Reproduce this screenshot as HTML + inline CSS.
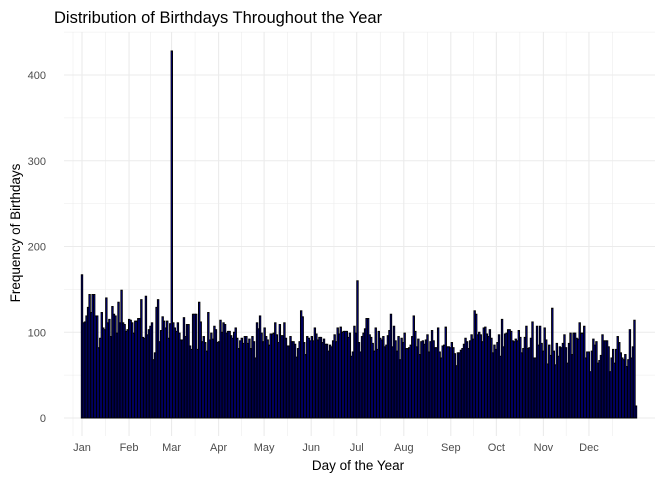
<!DOCTYPE html>
<html><head><meta charset="utf-8"><style>
body{margin:0;background:#fff;font-family:"Liberation Sans",sans-serif}
svg text{font-family:"Liberation Sans",sans-serif}
</style></head><body>
<svg id="chart" width="672" height="480" xmlns="http://www.w3.org/2000/svg">
<g id="grid"></g>
<g id="bars"></g>
<g id="axes"></g>
<text x="54" y="23" font-size="16.5" fill="#000">Distribution of Birthdays Throughout the Year</text>
<text x="358" y="470" font-size="13.5" text-anchor="middle" fill="#000">Day of the Year</text>
<text transform="translate(20,233) rotate(-90)" font-size="13.5" text-anchor="middle" fill="#000">Frequency of Birthdays</text>
</svg>
<script>
const monthLabels=["Jan","Feb","Mar","Apr","May","Jun","Jul","Aug","Sep","Oct","Nov","Dec"];
const monthDays=[1,32,60,91,121,152,182,213,244,274,305,335];
const yTicks=[0,100,200,300,400];
const countsQ1=[167,111,112,119,129,144,123,144,144,119,119,82,93,123,105,103,140,111,115,95,130,121,119,99,135,111,149,111,109,101,103,115,114,111,99,113,113,116,116,138,94,93,142,97,103,107,111,68,76,129,138,89,102,118,113,105,113,93,110,428,111,105,101,111,99,91,91,117,95,109,109,84,80,121,121];
const countsQ2=[121,80,135,112,89,95,88,78,123,91,99,92,107,103,88,89,114,100,111,109,99,101,101,96,93,100,105,93,81,90,93,87,95,95,87,92,81,95,89,70,111,104,119,99,89,105,95,91,85,98,98,99,111,97,88,109,96,96,111,93,84,84,95,89,89,86,71,81,89,125,118,88,74,95,93,90];
const countsQ3=[95,90,105,98,91,94,94,88,92,86,86,78,85,83,90,97,89,105,98,106,100,101,101,101,94,99,72,77,107,99,160,88,77,95,99,104,116,116,97,94,87,78,105,80,101,93,91,95,83,85,96,102,121,83,107,90,78,95,68,93,88,99,81,81,82,85,95,119,101,83,92,74,89,90,86];
const countsQ4=[91,97,77,89,102,90,82,82,105,77,70,84,85,106,83,83,82,88,82,75,61,76,76,79,81,86,93,89,81,90,97,92,125,121,97,100,97,89,105,106,98,95,103,93,76,85,80,88,97,72,115,83,98,99,103,103,101,90,89,92,90,102,94,76,81,94,107,81,82,93,112,70,70,107,85];
const countsQ5=[107,87,78,105,91,63,85,73,128,78,62,87,72,83,82,87,97,82,64,87,99,74,99,99,93,92,111,99,99,107,70,77,77,54,78,92,85,89,64,67,73,97,90,90,90,83,54,70,80,64,80,95,88,76,70,68,74,60,68,103,70,83,114,14];
const counts=countsQ1.concat(countsQ2,countsQ3,countsQ4,countsQ5);
const NS="http://www.w3.org/2000/svg";
const x0=82,x1=636,y0=418,yScale=(418-75)/400;
const xDay=d=>x0+(d-1)*(x1-x0)/365;
const yVal=v=>y0-v*yScale;
const pL=64,pR=655,pT=32,pB=436;
function mk(tag,at,parent){const e=document.createElementNS(NS,tag);for(const k in at)e.setAttribute(k,at[k]);parent.appendChild(e);return e;}
const grid=document.getElementById('grid'),bars=document.getElementById('bars'),axes=document.getElementById('axes');
for(let v=-50;v<=450;v+=50){const y=yVal(v);if(y<pT||y>pB)continue;
 const l=mk('line',{x1:pL,x2:pR,y1:y,y2:y,stroke:'#ebebeb','stroke-width':v%100===0?1.1:0.55},grid);
 
 }
const gx=[];monthDays.forEach((d,i)=>{gx.push([xDay(d),1.1]);const nd=i<11?monthDays[i+1]:366;gx.push([(xDay(d)+xDay(nd))/2,0.55]);});
gx.push([(pL+xDay(1))/2,0.55]);
gx.forEach(([x,w])=>{const l=mk('line',{x1:x,x2:x,y1:pT,y2:pB,stroke:'#ebebeb','stroke-width':w},grid);
 
 });
const n=counts.length,step=(x1-x0)/(n-1),bw=step*0.9;
counts.forEach((v,i)=>{const cx=x0+i*step;
 const r=mk('rect',{x:cx-bw/2,y:yVal(v),width:bw,height:v*yScale,fill:'#0000ff',stroke:'#000','stroke-width':1},bars);
 
 });
yTicks.forEach(v=>{const t=mk('text',{x:46,y:yVal(v)+4,'font-size':11,'text-anchor':'end',fill:'#4d4d4d'},axes);t.textContent=v;
 
 });
monthLabels.forEach((m,i)=>{const t=mk('text',{x:xDay(monthDays[i]),y:451,'font-size':11,'text-anchor':'middle',fill:'#4d4d4d'},axes);t.textContent=m;
 
 });
</script>
</body></html>
